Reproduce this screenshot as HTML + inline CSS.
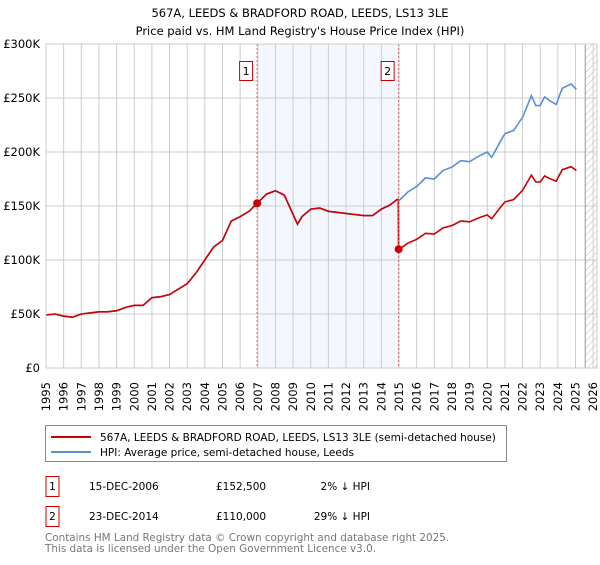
<!DOCTYPE html>
<html><head><meta charset="utf-8"><style>
body{margin:0;background:#fff;font-family:"Liberation Sans","DejaVu Sans",sans-serif;}
svg text{font-family:"DejaVu Sans","Liberation Sans",sans-serif;}
</style></head><body>
<svg id="c" width="600" height="560" xmlns="http://www.w3.org/2000/svg">
<defs><pattern id="hatch" width="5" height="5" patternUnits="userSpaceOnUse" patternTransform="rotate(45)"><line x1="0" y1="0" x2="0" y2="5" stroke="#bbb" stroke-width="1"/></pattern></defs>
<text x="300" y="17" text-anchor="middle" font-size="11.5">567A, LEEDS &amp; BRADFORD ROAD, LEEDS, LS13 3LE</text>
<text x="300" y="35" text-anchor="middle" font-size="11.5">Price paid vs. HM Land Registry's House Price Index (HPI)</text>
<g id="plot"></g>
<rect x="45.5" y="425.5" width="461" height="36" fill="#fff" stroke="#888"/>
<line x1="51" y1="437" x2="91" y2="437" stroke="#cc0000" stroke-width="2"/>
<text x="100" y="441" font-size="10.5">567A, LEEDS &amp; BRADFORD ROAD, LEEDS, LS13 3LE (semi-detached house)</text>
<line x1="51" y1="452" x2="91" y2="452" stroke="#5b8fd4" stroke-width="2"/>
<text x="100" y="456" font-size="10.5">HPI: Average price, semi-detached house, Leeds</text>
<g>
<rect x="46" y="476.5" width="13" height="20" fill="#fff" stroke="#cc0000"/>
<text x="52.5" y="490" text-anchor="middle" font-size="10.5">1</text>
<text x="89" y="490" font-size="10.5">15-DEC-2006</text>
<text x="216" y="490" font-size="10.5">£152,500</text>
<text x="370" y="490" text-anchor="end" font-size="10.5">2% ↓ HPI</text></g>
<g>
<rect x="46" y="506.5" width="13" height="20" fill="#fff" stroke="#cc0000"/>
<text x="52.5" y="520" text-anchor="middle" font-size="10.5">2</text>
<text x="89" y="520" font-size="10.5">23-DEC-2014</text>
<text x="216" y="520" font-size="10.5">£110,000</text>
<text x="370" y="520" text-anchor="end" font-size="10.5">29% ↓ HPI</text></g>
<text x="45" y="541" font-size="10.4" fill="#777">Contains HM Land Registry data © Crown copyright and database right 2025.</text>
<text x="45" y="552" font-size="10.4" fill="#777">This data is licensed under the Open Government Licence v3.0.</text>
</svg>
<script>
const hpiYears=[1995,1995.5,1996,1996.5,1997,1997.5,1998,1998.5,1999,1999.5,2000,2000.5,2001,2001.5,2002,2002.5,2003,2003.5,2004,2004.5,2005,2005.5,2006,2006.5,2007,2007.5,2008,2008.5,2009,2009.25,2009.5,2010,2010.5,2011,2011.5,2012,2012.5,2013,2013.5,2014,2014.5,2014.9,2015,2015.5,2016,2016.5,2017,2017.5,2018,2018.5,2019,2019.5,2020,2020.25,2020.75,2021,2021.5,2022,2022.5,2022.75,2023,2023.25,2023.5,2023.9,2024.25,2024.75,2025.05];
const hpiValues=[49,50,48,47,50,51,52,52,53,56,58,58,65,66,68,73,78,88,100,112,118,136,140,145,153,161,164,160,142,133,140,147,148,145,144,143,142,141,141,147,151,156,155,163,168,176,175,183,186,192,191,196,200,195,210,217,220,232,252,243,243,251,248,244,259,263,258];
const saleYears=[2006.96,2014.98];
const salePrices=[152.5,110];
const saleLabels=['1','2'];
const yTicks=[0,50,100,150,200,250,300];
const yTickLabels=['£0','£50K','£100K','£150K','£200K','£250K','£300K'];
const xTicks=[1995,1996,1997,1998,1999,2000,2001,2002,2003,2004,2005,2006,2007,2008,2009,2010,2011,2012,2013,2014,2015,2016,2017,2018,2019,2020,2021,2022,2023,2024,2025,2026];
const NS='http://www.w3.org/2000/svg';
const L=46,R=597,T=44,B=368;
const X=y=>L+(y-1995)*17.65;
const Y=v=>B-(v/300)*(B-T);
const g=document.getElementById('plot');
function mk(t,a){const e=document.createElementNS(NS,t);for(const k in a)e.setAttribute(k,a[k]);g.appendChild(e);return e;}
let e=mk('rect',{x:X(saleYears[0]),y:T,width:X(saleYears[1])-X(saleYears[0]),height:B-T,fill:'#eef3fc',opacity:0.7});


const fe=X(2025.55);
e=mk('rect',{x:fe,y:T,width:R-fe,height:B-T,fill:'url(#hatch)'});


xTicks.forEach((t,i)=>{
 let l=mk('line',{x1:X(t),x2:X(t),y1:T,y2:B,stroke:'#ccc','stroke-width':1});
 
 
 const px=X(t)+4;
 let tx=mk('text',{x:px,y:382,'text-anchor':'end','font-size':11.5,transform:'rotate(-90 '+px+' 382)'});
 tx.textContent=t;
 
 
});
yTicks.forEach((t,i)=>{
 let l=mk('line',{x1:L,x2:R,y1:Y(t),y2:Y(t),stroke:'#ccc','stroke-width':1});
 
 
 let tx=mk('text',{x:40,y:Y(t)+4,'text-anchor':'end','font-size':11.5});
 tx.textContent=yTickLabels[i];
 
 
});
e=mk('line',{x1:fe,x2:fe,y1:T,y2:B,stroke:'#999','stroke-width':1});


function hpiAt(y){for(let i=1;i<hpiYears.length;i++){if(y<=hpiYears[i]){const f=(y-hpiYears[i-1])/(hpiYears[i]-hpiYears[i-1]);return hpiValues[i-1]+f*(hpiValues[i]-hpiValues[i-1]);}}return hpiValues[hpiValues.length-1];}
let hp=hpiYears.map((y,i)=>X(y).toFixed(1)+','+Y(hpiValues[i]).toFixed(1)).join(' ');
e=mk('polyline',{points:hp,fill:'none',stroke:'#5b8fd4','stroke-width':1.6});


const r1=salePrices[0]/hpiAt(saleYears[0]), r2=salePrices[1]/hpiAt(saleYears[1]);
let pts=[];
hpiYears.forEach((y,i)=>{if(y<saleYears[1])pts.push([y,hpiValues[i]*r1]);});
pts.push([saleYears[1]-0.02,hpiAt(saleYears[1]-0.02)*r1]);
pts.push([saleYears[1],salePrices[1]]);
hpiYears.forEach((y,i)=>{if(y>saleYears[1])pts.push([y,hpiValues[i]*r2]);});
e=mk('polyline',{points:pts.map(p=>X(p[0]).toFixed(1)+','+Y(p[1]).toFixed(1)).join(' '),fill:'none',stroke:'#cc0000','stroke-width':1.6});


saleYears.forEach((s,i)=>{
 let l=mk('line',{x1:X(s),x2:X(s),y1:T,y2:B,stroke:'#e06060','stroke-width':1,'stroke-dasharray':'2,2'});
 
 
 let c=mk('circle',{cx:X(s),cy:Y(salePrices[i]),r:4,fill:'#cc0000'});
 
 
 let b=mk('rect',{x:X(s)-17.5,y:61.5,width:13,height:19,fill:'#fff',stroke:'#cc0000'});
 
 
 let t=mk('text',{x:X(s)-11,y:75,'text-anchor':'middle','font-size':11});
 t.textContent=saleLabels[i];
 
 
});
e=mk('rect',{x:L,y:T,width:R-L,height:B-T,fill:'none',stroke:'#ccc'});


</script>
</body></html>
